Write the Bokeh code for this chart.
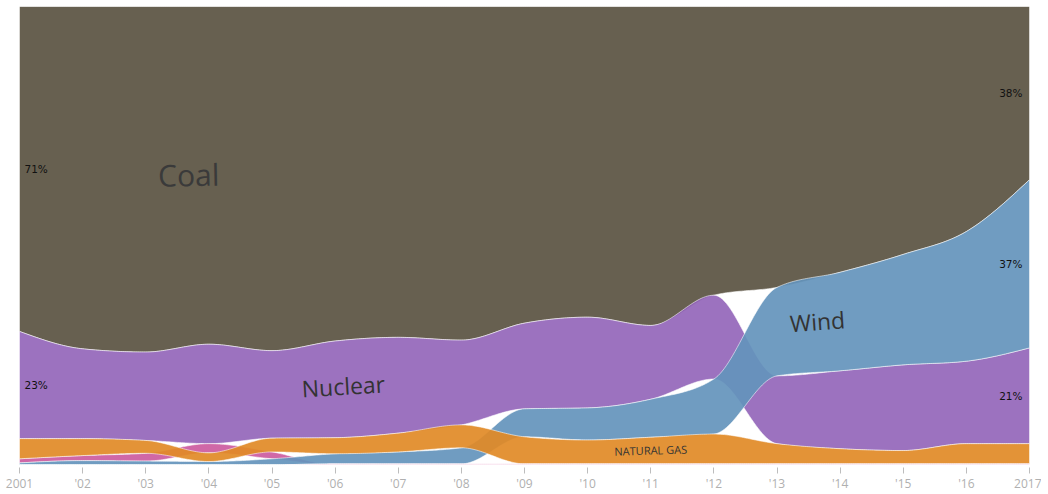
import numpy as np
from bokeh.plotting import figure
from bokeh.models import FixedTicker, Range1d, Label
from bokeh.embed import file_html
from bokeh.resources import INLINE

# ---------------- data (share of generation, %) ----------------
years = list(range(2001, 2018))
tick_labels = ["2001", "'02", "'03", "'04", "'05", "'06", "'07", "'08", "'09",
               "'10", "'11", "'12", "'13", "'14", "'15", "'16", "2017"]

coal    = [70.9, 74.7, 75.4, 73.7, 75.1, 73.0, 72.2, 72.8, 69.1, 67.8, 69.6, 63.0, 61.3, 58.0, 54.1, 49.1, 37.8]
nuclear = [23.4, 19.6, 19.3, 21.7, 19.1, 21.1, 20.9, 18.5, 18.7, 19.8, 16.1, 18.3, 14.8, 17.0, 18.7, 18.0, 20.9]
gas     = [4.4, 3.7, 2.8, 1.9, 3.0, 3.5, 4.1, 5.0, 5.9, 5.2, 5.8, 6.5, 4.4, 3.3, 2.9, 4.4, 4.4]
oil     = [0.9, 1.1, 1.7, 2.0, 1.5, 0.0, 0.0, 0.0, 0.0, 0.0, 0.0, 0.0, 0.0, 0.0, 0.0, 0.0, 0.0]
wind    = [0.4, 0.9, 0.8, 0.7, 1.3, 2.2, 2.6, 3.5, 6.1, 7.0, 8.3, 12.0, 19.3, 21.5, 24.1, 28.3, 36.7]
solar   = [0.0, 0.0, 0.0, 0.0, 0.0, 0.2, 0.2, 0.2, 0.2, 0.2, 0.2, 0.2, 0.2, 0.2, 0.2, 0.2, 0.2]

series_names = ["Coal", "Nuclear", "Oil", "Wind", "Natural gas", "Solar"]   # draw order
series_vals = {"Coal": coal, "Nuclear": nuclear, "Natural gas": gas,
               "Oil": oil, "Wind": wind, "Solar": solar}
colors = {"Coal": "#5a5341", "Nuclear": "#9466ba", "Oil": "#cc5ba0",
          "Wind": "#6494bc", "Natural gas": "#e18a26", "Solar": "#f3c3dd"}


# ---------------- rank stacking (largest on top) ----------------
n = len(years)
tops = {k: np.zeros(n) for k in series_vals}
bots = {k: np.zeros(n) for k in series_vals}
stack_order = list(series_vals.keys())
for i in range(n):
    ranked = sorted(stack_order, key=lambda k: series_vals[k][i])  # smallest first -> bottom
    base = 0.0
    for k in ranked:
        bots[k][i] = base
        base += series_vals[k][i]
        tops[k][i] = base


def monotone(xs, ys, per=30):
    """d3.curveMonotoneX sampled in data space."""
    xs = np.asarray(xs, float)
    ys = np.asarray(ys, float)
    h = np.diff(xs)
    s = np.diff(ys) / h
    m = len(xs)
    t = np.zeros(m)
    for i in range(1, m - 1):
        p_ = (s[i - 1] * h[i] + s[i] * h[i - 1]) / (h[i - 1] + h[i])
        t[i] = (np.sign(s[i - 1]) + np.sign(s[i])) * min(abs(s[i - 1]), abs(s[i]), 0.5 * abs(p_))
    t[0] = (3 * s[0] - t[1]) / 2
    t[-1] = (3 * s[-1] - t[-2]) / 2
    out_x, out_y = [], []
    for i in range(m - 1):
        u = np.linspace(0, 1, per, endpoint=(i == m - 2))
        h00 = 2 * u**3 - 3 * u**2 + 1
        h10 = u**3 - 2 * u**2 + u
        h01 = -2 * u**3 + 3 * u**2
        h11 = u**3 - u**2
        yy = h00 * ys[i] + h10 * h[i] * t[i] + h01 * ys[i + 1] + h11 * h[i] * t[i + 1]
        out_x.extend(xs[i] + u * h[i])
        out_y.extend(yy)
    return np.array(out_x), np.array(out_y)


p = figure(width=1041, height=494, x_range=Range1d(2001, 2017), y_range=Range1d(-0.6, 100),
           output_backend="svg", toolbar_location=None, y_axis_location=None,
           min_border_left=19, min_border_right=12, min_border_top=6, min_border_bottom=0,
           outline_line_color=None, background_fill_color="white", border_fill_color="white")
p.grid.visible = False

for k in series_names:
    xs, yt = monotone(years, tops[k])
    _, yb = monotone(years, bots[k])
    p.varea(x=xs, y1=yb, y2=yt, fill_color=colors[k], fill_alpha=0.92)
    p.line(xs, yt, line_color="white", line_alpha=0.55, line_width=1)
    p.line(xs, yb, line_color="white", line_alpha=0.55, line_width=1)

# ---------------- axis ----------------
ax = p.xaxis[0]
ax.ticker = FixedTicker(ticks=years)
ax.major_label_overrides = {y: lab for y, lab in zip(years, tick_labels)}
ax.axis_line_color = None
ax.major_tick_in = 0
ax.major_tick_out = 6
ax.minor_tick_line_color = None
ax.major_tick_line_color = "#bdbdbd"
ax.major_label_text_color = "#b0b0b0"
ax.major_label_text_font = "Open Sans"
ax.major_label_text_font_size = "12px"
ax.major_label_standoff = 1

# ---------------- series labels ----------------
def add_label(x, y, text, size, angle=0.0, color="#333333", font="Open Sans"):
    p.add_layout(Label(x=x, y=y, text=text, text_font=font, text_font_size=size,
                       text_color=color, text_align="center", text_baseline="middle",
                       angle=angle))

add_label(2003.68, 63.3, "Coal", "30px", 0.02, "#3a3a3a")
add_label(2006.13, 17.2, "Nuclear", "23px", 0.06)
add_label(2013.64, 31.3, "Wind", "23px", 0.07)
add_label(2011.0, 3.2, "NATURAL GAS", "11px", 0.03)

# ---------------- percent labels at both ends ----------------
for k in series_vals:
    for idx, xpos, align, xoff in [(0, years[0], "left", 5), (n - 1, years[-1], "right", -7)]:
        v = series_vals[k][idx]
        if v >= 10:
            mid = (tops[k][idx] + bots[k][idx]) / 2
            p.add_layout(Label(x=xpos, y=mid, x_offset=xoff, text=f"{round(v)}%",
                               text_font="DejaVu Sans", text_font_size="10.5px",
                               text_color="#111111", text_align=align, text_baseline="middle"))

open("out.html", "w").write(file_html(p, INLINE))
